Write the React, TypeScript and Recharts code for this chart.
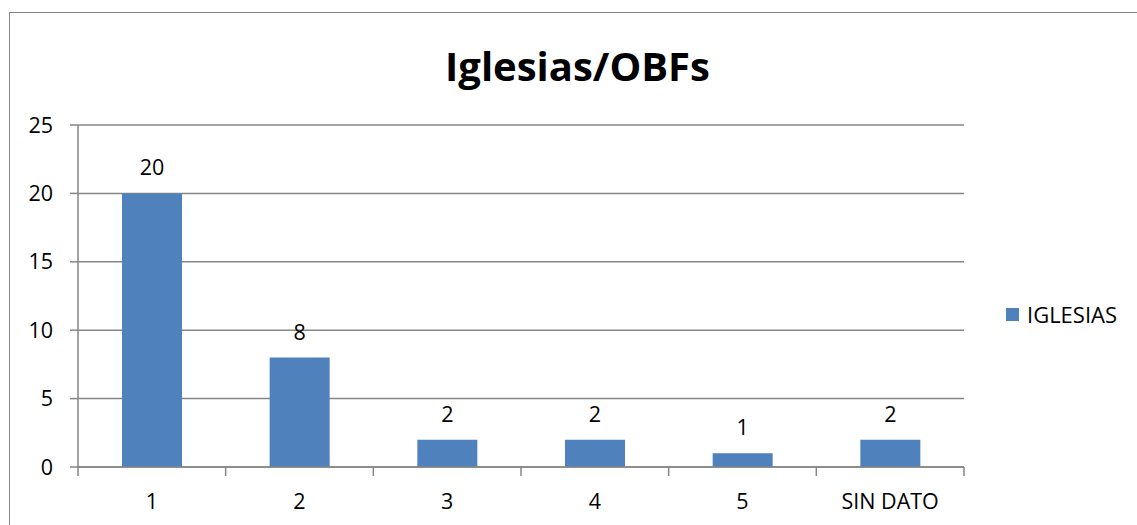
import React from "react";
import { BarChart, Bar, XAxis, YAxis, CartesianGrid, LabelList } from "recharts";

const categories = ["1", "2", "3", "4", "5", "SIN DATO"];
const iglesias = [20, 8, 2, 2, 1, 2];
const yTicks = [0, 5, 10, 15, 20, 25];
const seriesName = "IGLESIAS";
const titleText = "Iglesias/OBFs";

const data = categories.map((c, i) => ({ cat: c, value: iglesias[i] }));

const W = 1137;
const H = 525;
const margin = { top: 125, right: 173, bottom: 18, left: 18 };
const yAxisWidth = 60;
const plotLeft = margin.left + yAxisWidth;
const plotRight = W - margin.right;
const halfBand = (plotRight - plotLeft) / categories.length / 2;
const FONT = "'Open Sans', 'Liberation Sans', sans-serif";
const GRID = "#868686";
const FS = 21.5;

const XTick = (props: any) => {
  const { x, y, payload, index } = props;
  const isLast = index === categories.length - 1;
  return (
    <g>
      <line x1={x - halfBand} x2={x - halfBand} y1={y - 8} y2={y + 1} stroke={GRID} strokeWidth={1.5} />
      {isLast && (
        <line x1={x + halfBand} x2={x + halfBand} y1={y - 8} y2={y + 1} stroke={GRID} strokeWidth={1.5} />
      )}
      <text x={x} y={y + 34} textAnchor="middle" fill="#000" fontSize={FS} fontFamily={FONT}>
        {payload.value}
      </text>
    </g>
  );
};

export default function App() {
  return (
    <div style={{ position: "absolute", left: 0, top: 0, width: W, height: H, background: "#fff", overflow: "hidden" }}>
      <div
        style={{
          position: "absolute",
          left: 9,
          top: 12,
          width: W + 20,
          height: H + 20,
          border: `1.5px solid ${GRID}`,
          boxSizing: "border-box",
        }}
      />
      <div
        style={{
          position: "absolute",
          left: 0,
          width: W + 18,
          top: 38,
          textAlign: "center",
          fontFamily: FONT,
          fontWeight: 700,
          fontSize: 40,
          color: "#000",
          lineHeight: "56px",
        }}
      >
        {titleText}
      </div>
      <div
        style={{
          position: "absolute",
          left: 1006,
          top: 300,
          display: "flex",
          alignItems: "center",
          fontFamily: FONT,
          fontSize: 22,
          color: "#000",
          lineHeight: "28px",
        }}
      >
        <span style={{ display: "inline-block", width: 13, height: 13, background: "#4F81BD", marginRight: 8 }} />
        <span>{seriesName}</span>
      </div>
      <div style={{ position: "absolute", left: 0, top: 0 }}>
        <BarChart width={W} height={H} data={data} margin={margin}>
          <CartesianGrid vertical={false} stroke={GRID} strokeWidth={1.5} />
          <XAxis
            dataKey="cat"
            height={40}
            stroke={GRID}
            strokeWidth={1.5}
            tickLine={false}
            tick={<XTick />}
            interval={0}
          />
          <YAxis
            width={yAxisWidth}
            domain={[0, 25]}
            ticks={yTicks}
            stroke={GRID}
            strokeWidth={1.5}
            tickSize={8}
            tick={{ fill: "#000", fontSize: FS, fontFamily: FONT }}
            tickMargin={17}
            interval={0}
          />
          <Bar dataKey="value" name={seriesName} fill="#4F81BD" barSize={60} isAnimationActive={false}>
            <LabelList dataKey="value" position="top" offset={18} fill="#000" fontSize={FS} fontFamily={FONT} />
          </Bar>
        </BarChart>
      </div>
    </div>
  );
}
